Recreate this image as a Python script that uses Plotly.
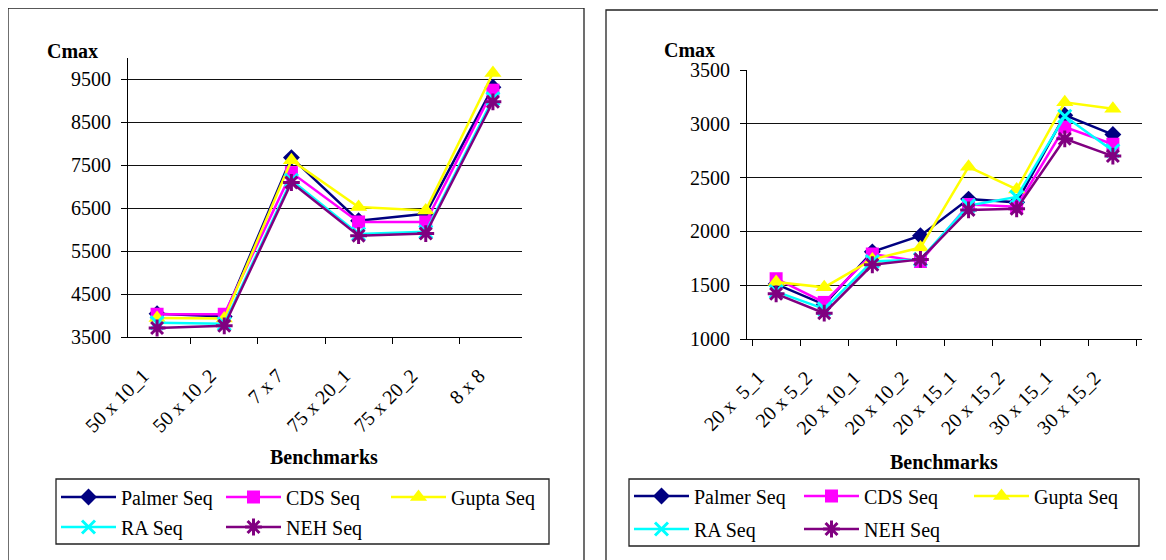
import plotly.graph_objects as go

FONT = "Liberation Serif"
W, H = 1166, 560
PAD = 8  # page body margin offset

SERIES = ["Palmer Seq", "CDS Seq", "Gupta Seq", "RA Seq", "NEH Seq"]
COLORS = ["#000080", "#FF00FF", "#FFFF00", "#00FFFF", "#800080"]

LEFT_CATS = ["50 x 10_1", "50 x 10_2", "7 x 7", "75 x 20_1", "75 x 20_2", "8 x 8"]
LEFT_PALMER = [4040, 3980, 7680, 6210, 6370, 9320]
LEFT_CDS = [4030, 4030, 7330, 6180, 6180, 9250]
LEFT_GUPTA = [3940, 3930, 7620, 6530, 6450, 9650]
LEFT_RA = [3830, 3810, 7150, 5900, 5950, 9050]
LEFT_NEH = [3710, 3760, 7100, 5860, 5910, 8980]

RIGHT_CATS = ["20 x\u00a0 5_1", "20 x 5_2", "20 x 10_1", "20 x 10_2",
              "20 x 15_1", "20 x 15_2", "30 x 15_1", "30 x 15_2"]
RIGHT_PALMER = [1510, 1320, 1810, 1960, 2300, 2270, 3080, 2900]
RIGHT_CDS = [1560, 1340, 1790, 1720, 2250, 2230, 2970, 2810]
RIGHT_GUPTA = [1530, 1480, 1740, 1850, 2600, 2390, 3200, 3140]
RIGHT_RA = [1440, 1280, 1720, 1740, 2240, 2320, 3070, 2750]
RIGHT_NEH = [1420, 1240, 1690, 1740, 2200, 2210, 2860, 2700]

LEFT_GRID = [4500, 5500, 6500, 7500, 8500, 9500]
RIGHT_GRID = [1500, 2000, 2500, 3000]


def px_x(v):
    return (v - PAD) / W


def px_y(v):
    return 1 - (v - PAD) / H


def marker(i):
    if i == 0:
        return dict(symbol="diamond", size=13, color=COLORS[i])
    if i == 1:
        return dict(symbol="square", size=13, color=COLORS[i])
    if i == 2:
        return dict(symbol="triangle-up", size=15, color=COLORS[i])
    if i == 3:
        return dict(symbol="x-thin-open", size=13, color=COLORS[i],
                    line=dict(color=COLORS[i], width=3))
    return dict(symbol="asterisk-open", size=14, color=COLORS[i],
                line=dict(color=COLORS[i], width=3))


fig = go.Figure()

left = [LEFT_PALMER, LEFT_CDS, LEFT_GUPTA, LEFT_RA, LEFT_NEH]
right = [RIGHT_PALMER, RIGHT_CDS, RIGHT_GUPTA, RIGHT_RA, RIGHT_NEH]

for i, vals in enumerate(left):
    fig.add_trace(go.Scatter(
        x=LEFT_CATS, y=vals, name=SERIES[i], mode="lines+markers",
        line=dict(color=COLORS[i], width=2.5), marker=marker(i),
        xaxis="x", yaxis="y", legend="legend" if i < 3 else "legend2"))

for i, vals in enumerate(right):
    fig.add_trace(go.Scatter(
        x=RIGHT_CATS, y=vals, name=SERIES[i], mode="lines+markers",
        line=dict(color=COLORS[i], width=2.5), marker=marker(i),
        xaxis="x2", yaxis="y2", legend="legend3" if i < 3 else "legend4"))

axis_font = dict(family=FONT, size=20, color="black")
xcommon = dict(type="category", showline=True, linecolor="black", linewidth=1,
               ticks="outside", ticklen=6, tickcolor="black", tickson="boundaries",
               tickangle=-45, tickfont=axis_font, showgrid=False, zeroline=False,
               ticklabelstandoff=18)
ycommon = dict(showline=True, linecolor="black", linewidth=1, ticks="outside",
               ticklen=6, tickcolor="black", tickfont=axis_font, showgrid=False,
               zeroline=False, ticklabelstandoff=6, tickformat="d")

legend_common = dict(orientation="h", font=axis_font, bgcolor="rgba(0,0,0,0)",
                     borderwidth=0, itemwidth=55, xanchor="left", yanchor="middle",
                     entrywidthmode="pixels")

fig.update_layout(
    width=W, height=H, margin=dict(l=0, r=0, t=0, b=0, autoexpand=False),
    paper_bgcolor="white", plot_bgcolor="white",
    font=dict(family=FONT, color="black"),
    xaxis=dict(xcommon, domain=[px_x(128), px_x(522)], anchor="y",
               ticklabelshift=-14),
    yaxis=dict(ycommon, domain=[px_y(337), px_y(58)], range=[3500, 10000],
               tick0=3500, dtick=1000, anchor="x",
               minor=dict(tickmode="array", tickvals=LEFT_GRID, ticks="",
                          showgrid=True, gridcolor="#111", gridwidth=1)),
    xaxis2=dict(xcommon, domain=[px_x(747), px_x(1142)], anchor="y2",
                ticklabelshift=-18),
    yaxis2=dict(ycommon, domain=[px_y(339), px_y(70)], range=[1000, 3500],
                tick0=1000, dtick=500, anchor="x2",
                minor=dict(tickmode="array", tickvals=RIGHT_GRID, ticks="",
                           showgrid=True, gridcolor="#111", gridwidth=1)),
    legend=dict(legend_common, x=px_x(56), y=px_y(497), entrywidth=95),
    legend2=dict(legend_common, x=px_x(56), y=px_y(527), entrywidth=95),
    legend3=dict(legend_common, x=px_x(629), y=px_y(496), entrywidth=100),
    legend4=dict(legend_common, x=px_x(629), y=px_y(529), entrywidth=100),
    showlegend=True,
)

# panel frames and legend boxes
for x0, y0, x1, y1 in [(8, 8, 584, 580), (606, 10, 1180, 580),
                       (56, 479, 549, 544), (629, 479, 1139, 546)]:
    fig.add_shape(type="rect", xref="paper", yref="paper",
                  x0=px_x(x0), x1=px_x(x1), y0=px_y(y1), y1=px_y(y0),
                  line=dict(color="#222", width=1.3), fillcolor="rgba(0,0,0,0)",
                  layer="below")

bold = dict(family=FONT, size=20, color="black", weight="bold")
for text, x, y in [("Cmax", 72, 51), ("Cmax", 689, 50),
                   ("Benchmarks", 324, 457), ("Benchmarks", 944, 462)]:
    fig.add_annotation(text="<b>%s</b>" % text, x=px_x(x), y=px_y(y),
                       xref="paper", yref="paper", showarrow=False,
                       xanchor="center", yanchor="middle", font=bold)

fig.write_html("out.html")
